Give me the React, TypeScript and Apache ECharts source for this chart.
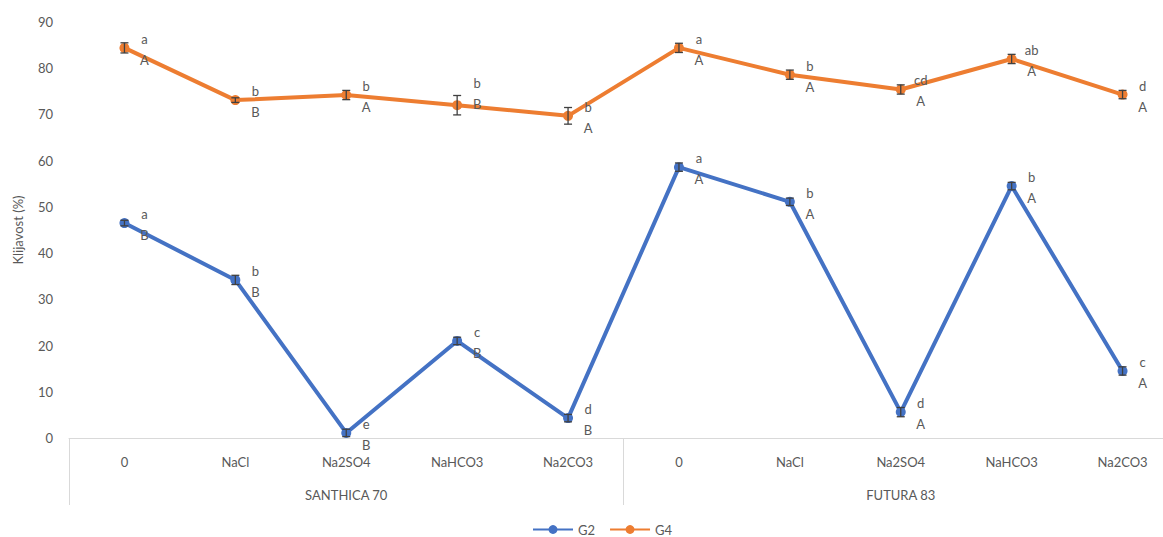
import React, { useEffect, useRef } from "react";
import * as echarts from "echarts";

const categories = ["0", "NaCl", "Na2SO4", "NaHCO3", "Na2CO3", "0", "NaCl", "Na2SO4", "NaHCO3", "Na2CO3"];
const groups = ["SANTHICA 70", "FUTURA 83"];
const yTicks = { min: 0, max: 90, interval: 10 };

const g2Values = [46.5, 34.2, 1.1, 21.0, 4.3, 58.6, 51.1, 5.6, 54.5, 14.5];
const g2Errors = [0.6, 1.0, 0.8, 0.8, 0.8, 0.9, 0.8, 1.0, 0.8, 0.9];
const g2Lower = ["a", "b", "e", "c", "d", "a", "b", "d", "b", "c"];
const g2Upper = ["B", "B", "B", "B", "B", "A", "A", "A", "A", "A"];

const g4Values = [84.4, 73.1, 74.2, 72.0, 69.7, 84.4, 78.6, 75.4, 82.0, 74.3];
const g4Errors = [1.1, 0.5, 1.0, 2.1, 1.8, 1.0, 1.0, 1.0, 1.0, 0.9];
const g4Lower = ["a", "b", "b", "b", "b", "a", "b", "cd", "ab", "d"];
const g4Upper = ["A", "B", "A", "B", "A", "A", "A", "A", "A", "A"];

const BLUE = "#4472C4";
const ORANGE = "#ED7D31";
const TEXT = "#595959";
const FONT = "Lato, 'Open Sans', sans-serif";

function errorSeries(name: string, values: number[], errs: number[]) {
  return {
    type: "custom",
    name: name + "_err",
    z: 5,
    silent: true,
    itemStyle: { color: "#404040" },
    data: values.map((v, i) => [i, v, errs[i]]),
    encode: { x: 0, y: 1 },
    renderItem: (params: any, api: any) => {
      const x = api.value(0);
      const y = api.value(1);
      const e = api.value(2);
      const hi = api.coord([x, y + e]);
      const lo = api.coord([x, y - e]);
      const w = 4;
      const style = { stroke: "#404040", lineWidth: 1.3 };
      return {
        type: "group",
        children: [
          { type: "line", shape: { x1: hi[0], y1: hi[1], x2: lo[0], y2: lo[1] }, style },
          { type: "line", shape: { x1: hi[0] - w, y1: hi[1], x2: hi[0] + w, y2: hi[1] }, style },
          { type: "line", shape: { x1: lo[0] - w, y1: lo[1], x2: lo[0] + w, y2: lo[1] }, style },
        ],
      };
    },
  };
}

function labelSeries(name: string, values: number[], lower: string[], upper: string[], shifts: Record<number, number>) {
  return {
    type: "custom",
    name: name + "_lbl",
    z: 6,
    silent: true,
    itemStyle: { color: TEXT },
    data: values.map((v, i) => [i, v]),
    encode: { x: 0, y: 1 },
    renderItem: (params: any, api: any) => {
      const i = params.dataIndex;
      const p = api.coord([api.value(0), api.value(1)]);
      const dy = shifts[i] || 0;
      const font = { fill: TEXT, fontSize: 13, fontFamily: FONT, align: "center", verticalAlign: "middle" };
      return {
        type: "group",
        children: [
          { type: "text", x: p[0] + 20, y: p[1] - 9 + dy, style: { ...font, text: lower[i] } },
          { type: "text", x: p[0] + 20, y: p[1] + 12 + dy, style: { ...font, text: upper[i] } },
        ],
      };
    },
  };
}

export default function App() {
  const ref = useRef<HTMLDivElement>(null);
  useEffect(() => {
    if (!ref.current) return;
    const chart = echarts.init(ref.current, undefined, { renderer: "svg" });
    chart.setOption({
      animation: false,
      backgroundColor: "#ffffff",
      textStyle: { fontFamily: FONT },
      grid: { left: 69, top: 22, width: 1109, height: 416 },
      legend: {
        top: 518,
        left: 527,
        data: ["G2", "G4"],
        itemWidth: 40,
        itemHeight: 11,
        itemGap: 14,
        textStyle: { color: TEXT, fontSize: 13, fontFamily: FONT },
      },
      xAxis: [
        {
          type: "category",
          data: categories,
          position: "bottom",
          axisLine: { show: true, lineStyle: { color: "#d9d9d9", width: 1 } },
          axisTick: { show: false },
          axisLabel: { color: TEXT, fontSize: 13, margin: 17, fontFamily: FONT, interval: 0 },
        },
        {
          type: "category",
          data: groups,
          position: "bottom",
          offset: 0,
          boundaryGap: true,
          axisLine: { show: false },
          axisTick: { show: true, length: 67, lineStyle: { color: "#d9d9d9", width: 1 } },
          axisLabel: { color: TEXT, fontSize: 13, margin: 50, fontFamily: FONT },
        },
      ],
      yAxis: {
        type: "value",
        min: yTicks.min,
        max: yTicks.max,
        interval: yTicks.interval,
        name: "Klijavost (%)",
        nameLocation: "middle",
        nameGap: 45,
        nameTextStyle: { color: TEXT, fontSize: 13, fontFamily: FONT },
        axisLine: { show: false },
        axisTick: { show: false },
        splitLine: { show: false },
        axisLabel: { color: TEXT, fontSize: 13, margin: 16, fontFamily: FONT },
      },
      series: [
        {
          name: "G2",
          type: "line",
          data: g2Values,
          color: BLUE,
          symbol: "circle",
          symbolSize: 10,
          lineStyle: { width: 4, color: BLUE },
          itemStyle: { color: BLUE },
          z: 3,
        },
        {
          name: "G4",
          type: "line",
          data: g4Values,
          color: ORANGE,
          symbol: "circle",
          symbolSize: 10,
          lineStyle: { width: 4, color: ORANGE },
          itemStyle: { color: ORANGE },
          z: 3,
        },
        errorSeries("G2", g2Values, g2Errors),
        errorSeries("G4", g4Values, g4Errors),
        labelSeries("G2", g2Values, g2Lower, g2Upper, {}),
        labelSeries("G4", g4Values, g4Lower, g4Upper, { 3: -13 }),
      ],
    });
    return () => chart.dispose();
  }, []);
  return (
    <div style={{ position: "absolute", left: 0, top: 0, width: 1163, height: 537, overflow: "hidden" }}>
      <div ref={ref} style={{ width: 1185, height: 537 }} />
    </div>
  );
}
